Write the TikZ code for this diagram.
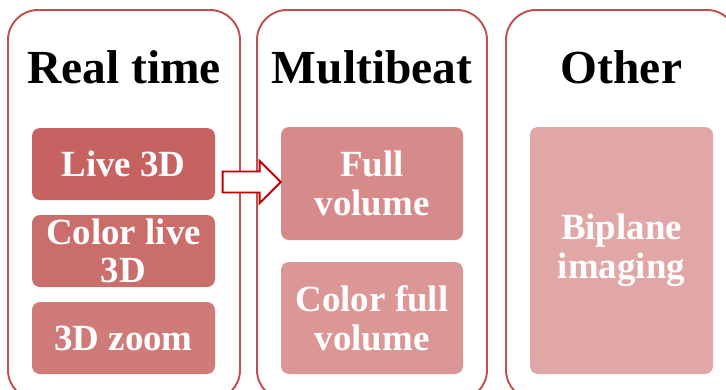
\documentclass[tikz,border=0pt]{standalone}
\usepackage{fontspec}
\setmainfont{Liberation Serif}
\usepackage{tikz}
\usetikzlibrary{calc}
\definecolor{colline}{HTML}{C0504D}
\definecolor{arrowred}{HTML}{C00000}
\definecolor{fillA}{HTML}{C66361}
\definecolor{fillB}{HTML}{CA6E6C}
\definecolor{fillC}{HTML}{CF7B79}
\definecolor{fillD}{HTML}{D68A89}
\definecolor{fillE}{HTML}{DA9796}
\definecolor{fillF}{HTML}{E0A7A6}
\tikzset{
  colbox/.style={draw=colline,line width=1.1pt,rounded corners=0.6cm},
  coltitle/.style={anchor=base,font=\fontsize{27}{30}\selectfont\bfseries},
  item/.style={rounded corners=0.16cm,text=white,align=center,inner sep=0pt,
    minimum width=3.66cm,font=\fontsize{21}{22}\selectfont\bfseries},
  blockarrow/.style={draw=arrowred,fill=white,line width=1.1pt,line join=miter}
}

\begin{document}
\begin{tikzpicture}
\useasboundingbox (0,0) rectangle (14.52,7.78);
\clip (0,0) rectangle (14.52,7.78);
% columns
\draw[colbox] (0.16,-0.22) rectangle (4.80,7.58);
\draw[colbox] (5.14,-0.22) rectangle (9.74,7.58);
\draw[colbox] (10.12,-0.22) rectangle (14.74,7.58);
\node[coltitle] (realtime) at (2.48,6.12) {Real time};
\node[coltitle] (multibeat) at (7.44,6.12) {Multibeat};
\node[coltitle] (other) at (12.43,6.12) {Other};
% items
\node[item,fill=fillA,minimum height=1.44cm] (live) at (2.47,4.50) {Live 3D};
\node[item,fill=fillB,minimum height=1.44cm] (colorlive) at (2.47,2.76) {Color live\\3D};
\node[item,fill=fillC,minimum height=1.44cm] (zoom) at (2.47,1.02) {3D zoom};
\node[item,fill=fillD,minimum height=2.26cm,minimum width=3.64cm] (full) at (7.44,4.11) {Full\\volume};
\node[item,fill=fillE,minimum height=2.24cm,minimum width=3.64cm] (colorfull) at (7.44,1.42) {Color full\\volume};
\node[item,fill=fillF,minimum height=4.94cm] (biplane) at (12.43,2.77) {Biplane\\imaging};
% arrow
\draw[blockarrow] ($(full.west)+(0,0.03)$) -- ++(-0.42,0.42) -- ++(0,-0.21)
  -- ++(-0.74,0) -- ++(0,-0.42) -- ++(0.74,0) -- ++(0,-0.21) -- cycle;
\end{tikzpicture}
\end{document}
